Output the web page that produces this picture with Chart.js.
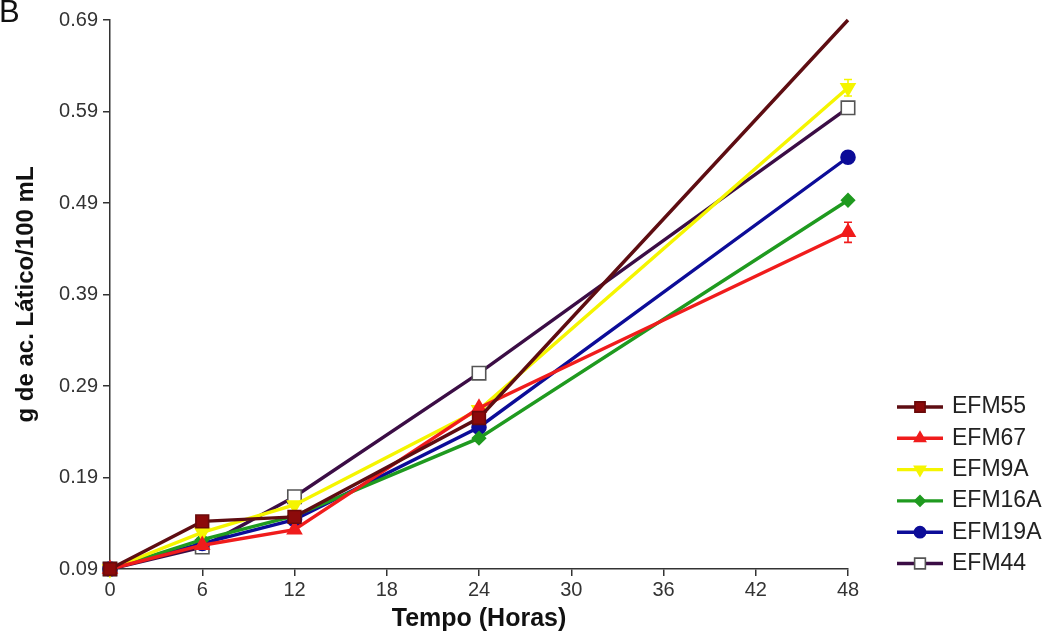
<!DOCTYPE html>
<html>
<head>
<meta charset="utf-8">
<script src="https://cdn.jsdelivr.net/npm/chart.js@4"></script>
<style>
  html, body { margin: 0; padding: 0; background: #fff; }
  #wrap { width: 1059px; height: 634px; position: relative; }
</style>
</head>
<body>
<div id="wrap"><canvas id="c" width="1059" height="634"></canvas></div>
<script>
// Sampling times (hours)
const hours = [0, 6, 12, 24, 48];
const xTicks = [0, 6, 12, 18, 24, 30, 36, 42, 48];
const yTicks = [0.09, 0.19, 0.29, 0.39, 0.49, 0.59, 0.69];

// Lactic acid produced (g / 100 mL) per strain
const efm55  = [0.09, 0.142, 0.147, 0.255, 0.690];
const efm67  = [0.09, 0.116, 0.133, 0.266, 0.458];
const efm9a  = [0.09, 0.130, 0.160, 0.264, 0.616];
const efm16a = [0.09, 0.122, 0.148, 0.233, 0.493];
const efm19a = [0.09, 0.118, 0.144, 0.245, 0.540];
const efm44  = [0.09, 0.114, 0.169, 0.304, 0.594];

// Standard deviations (visible only where larger than the marker)
const err67 = [0, 0, 0, 0, 0.011];
const err9a = [0, 0, 0, 0, 0.009];

const labels = ['EFM55', 'EFM67', 'EFM9A', 'EFM16A', 'EFM19A', 'EFM44'];

const FONT = '"Liberation Sans", Arial, sans-serif';
const pts = arr => arr.map((v, i) => ({ x: hours[i], y: v }));

const series = [
  { label: labels[0], data: pts(efm55),  line: '#5e0d12', fill: '#8c0a0a', edge: '#6a0a0a', style: 'rect', r: 9, rot: 0, hideLast: true },
  { label: labels[1], data: pts(efm67),  line: '#f01c1c', fill: '#f01c1c', edge: '#f01c1c', style: 'triangle', r: 8, rot: 0, err: err67 },
  { label: labels[2], data: pts(efm9a),  line: '#f5f500', fill: '#f5f500', edge: '#f5f500', style: 'triangle', r: 8, rot: 180, err: err9a },
  { label: labels[3], data: pts(efm16a), line: '#1f9a1f', fill: '#1f9a1f', edge: '#1f9a1f', style: 'rectRot', r: 6.5, rot: 0 },
  { label: labels[4], data: pts(efm19a), line: '#0c0c98', fill: '#0c0c98', edge: '#0c0c98', style: 'circle', r: 7, rot: 0 },
  { label: labels[5], data: pts(efm44),  line: '#3b0d45', fill: '#ffffff', edge: '#555555', style: 'rect', r: 9.5, rot: 0 }
];

const datasets = series.map(s => ({
  label: s.label,
  data: s.data,
  borderColor: s.line,
  backgroundColor: s.fill,
  borderWidth: 3.4,
  pointStyle: s.style,
  baseRadius: s.r,
  // the top-end marker of EFM55 sits at the frame edge and is left off
  pointRadius: ctx => (s.hideLast && ctx.dataIndex === s.data.length - 1) ? 0 : s.r,
  pointRotation: s.rot,
  pointBackgroundColor: s.fill,
  pointBorderColor: s.edge,
  pointBorderWidth: 1.6,
  tension: 0,
  clip: false,
  errors: s.err || null
}));

// Error bars with small caps
const errorBars = {
  id: 'errorBars',
  afterDatasetsDraw(chart) {
    const ctx = chart.ctx;
    const xs = chart.scales.x, ys = chart.scales.y;
    chart.data.datasets.forEach(ds => {
      if (!ds.errors) return;
      ctx.save();
      ctx.strokeStyle = ds.borderColor;
      ctx.lineWidth = 1.6;
      ds.data.forEach((p, i) => {
        const e = ds.errors[i];
        if (!e) return;
        const x = xs.getPixelForValue(p.x);
        const y1 = ys.getPixelForValue(p.y + e);
        const y2 = ys.getPixelForValue(p.y - e);
        ctx.beginPath();
        ctx.moveTo(x, y1); ctx.lineTo(x, y2);
        ctx.moveTo(x - 4, y1); ctx.lineTo(x + 4, y1);
        ctx.moveTo(x - 4, y2); ctx.lineTo(x + 4, y2);
        ctx.stroke();
      });
      ctx.restore();
    });
  }
};

// Legend: line segment with the series marker, then the strain name
const sideLegend = {
  id: 'sideLegend',
  afterDraw(chart) {
    const ctx = chart.ctx;
    const x0 = 897, x1 = 943, tx = 952, y0 = 407, dy = 31.3;
    ctx.save();
    chart.data.datasets.forEach((ds, i) => {
      const y = y0 + i * dy;
      ctx.strokeStyle = ds.borderColor;
      ctx.lineWidth = 3.4;
      ctx.beginPath(); ctx.moveTo(x0, y); ctx.lineTo(x1, y); ctx.stroke();
      ctx.fillStyle = ds.pointBackgroundColor;
      ctx.strokeStyle = ds.pointBorderColor;
      ctx.lineWidth = ds.pointBorderWidth;
      Chart.helpers.drawPoint(ctx, {
        pointStyle: ds.pointStyle,
        rotation: ds.pointRotation,
        radius: ds.baseRadius * 0.8,
        borderWidth: ds.pointBorderWidth
      }, (x0 + x1) / 2, y);
      ctx.fillStyle = '#222';
      ctx.font = '23px ' + FONT;
      ctx.textBaseline = 'middle';
      ctx.textAlign = 'left';
      ctx.fillText(ds.label, tx, y);
    });
    // Panel letter
    ctx.fillStyle = '#111';
    ctx.font = '31px ' + FONT;
    ctx.textBaseline = 'alphabetic';
    ctx.fillText('B', -1, 22);
    ctx.restore();
  }
};

const tickFont = { family: FONT, size: 20 };

new Chart(document.getElementById('c'), {
  type: 'line',
  data: { datasets },
  options: {
    responsive: false,
    animation: false,
    devicePixelRatio: 1,
    layout: { padding: { top: 20, right: 211, left: 0, bottom: 0 } },
    plugins: { legend: { display: false }, tooltip: { enabled: false } },
    scales: {
      x: {
        type: 'linear',
        min: 0, max: 48,
        afterBuildTicks: s => { s.ticks = xTicks.map(v => ({ value: v })); },
        afterFit: s => { s.height = 65; },
        ticks: { font: tickFont, color: '#333', padding: 2, maxRotation: 0,
                 callback: v => String(v) },
        grid: { display: true, drawOnChartArea: false, drawTicks: true, tickLength: 7,
                color: '#333', lineWidth: 1.5 },
        border: { display: true, color: '#333', width: 1.5 },
        title: { display: true, text: 'Tempo (Horas)', color: '#111',
                 font: { family: FONT, size: 25, weight: 'bold' },
                 padding: { top: 0, bottom: 0 } }
      },
      y: {
        type: 'linear',
        min: 0.09, max: 0.69,
        afterBuildTicks: s => { s.ticks = yTicks.map(v => ({ value: v })); },
        afterFit: s => { s.width = 110; },
        ticks: { font: tickFont, color: '#333', padding: 5,
                 callback: v => v.toFixed(2) },
        grid: { display: true, drawOnChartArea: false, drawTicks: true, tickLength: 7,
                color: '#333', lineWidth: 1.5 },
        border: { display: true, color: '#333', width: 1.5 },
        title: { display: true, text: 'g de ac. Lático/100 mL', color: '#111',
                 font: { family: FONT, size: 24, weight: 'bold' },
                 padding: { top: 12, bottom: 0 } }
      }
    }
  },
  plugins: [errorBars, sideLegend]
});
</script>
</body>
</html>
